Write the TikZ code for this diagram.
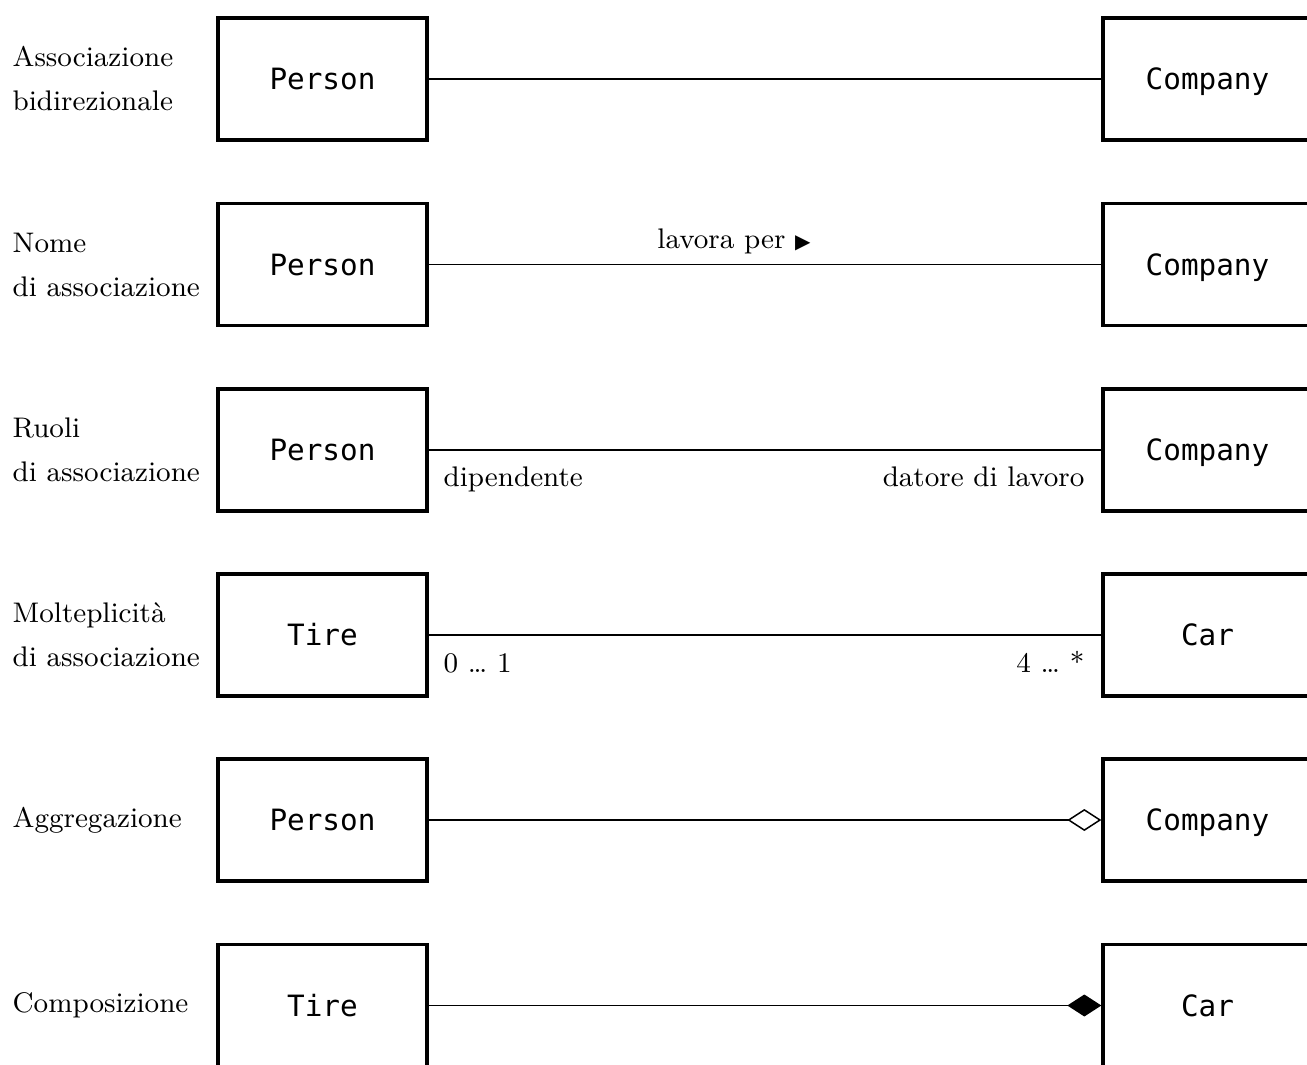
\documentclass[tikz,border=0pt]{standalone}
\usepackage{fontspec}
\usepackage{tikz}
\newfontfamily\umlmono{DejaVu Sans Mono}
\newfontfamily\symfont{DejaVu Sans}
\usetikzlibrary{arrows.meta}

\begin{document}
\begin{tikzpicture}[x=0.3pt,y=-0.3pt,
  cls/.style={draw,line width=1pt,minimum width=62.7pt,minimum height=36.6pt,inner sep=0pt,text height=6.3pt,text depth=0pt,font=\umlmono\fontsize{8.8}{10}\selectfont},
  lbl/.style={anchor=west,align=left,inner sep=0pt,font=\fontsize{8.5}{13.2}\selectfont},
  txt/.style={inner sep=0pt,font=\fontsize{8.5}{11}\selectfont},
  assoc/.style={line width=0.45pt}]
\useasboundingbox (0,0) rectangle (1307,1065);
\clip (0,0) rectangle (1307,1065);

\node[cls] (p1) at (322.5,79) {Person};
\node[cls] (c1) at (1207.5,79) {Company};
\node[lbl] (l1) at (12,79) {Associazione\\bidirezionale};
\draw[assoc] (p1) -- (c1);

\node[cls] (p2) at (322.5,264.5) {Person};
\node[cls] (c2) at (1207.5,264.5) {Company};
\node[lbl] (l2) at (12,264.5) {Nome\\di associazione};
\draw[assoc] (p2) -- (c2);
\node[txt,anchor=base] (n2) at (734,248) {lavora per {\symfont\fontsize{6}{6}\selectfont ▶}};

\node[cls] (p3) at (322.5,450) {Person};
\node[cls] (c3) at (1207.5,450) {Company};
\node[lbl] (l3) at (12,450) {Ruoli\\di associazione};
\draw[assoc] (p3) -- (c3);
\node[txt,anchor=base west] (r3a) at (443,486) {dipendente};
\node[txt,anchor=base east] (r3b) at (1085,486) {datore di lavoro};

\node[cls] (p4) at (322.5,635) {Tire};
\node[cls] (c4) at (1207.5,635) {Car};
\node[lbl] (l4) at (12,635) {Molteplicità\\di associazione};
\draw[assoc] (p4) -- (c4);
\node[txt,anchor=base west] (m4a) at (443,672) {0 … 1};
\node[txt,anchor=base east] (m4b) at (1085,672) {4 … *};

\node[cls] (p5) at (322.5,820) {Person};
\node[cls] (c5) at (1207.5,820) {Company};
\node[lbl] (l5) at (12,820) {Aggregazione};
\draw[assoc,-{Diamond[open,length=10.2pt,width=6.6pt]}] (p5) -- (c5);

\node[cls] (p6) at (322.5,1005.5) {Tire};
\node[cls] (c6) at (1207.5,1005.5) {Car};
\node[lbl] (l6) at (12,1005.5) {Composizione};
\draw[assoc,-{Diamond[length=10.2pt,width=6.6pt]}] (p6) -- (c6);
\end{tikzpicture}
\end{document}
